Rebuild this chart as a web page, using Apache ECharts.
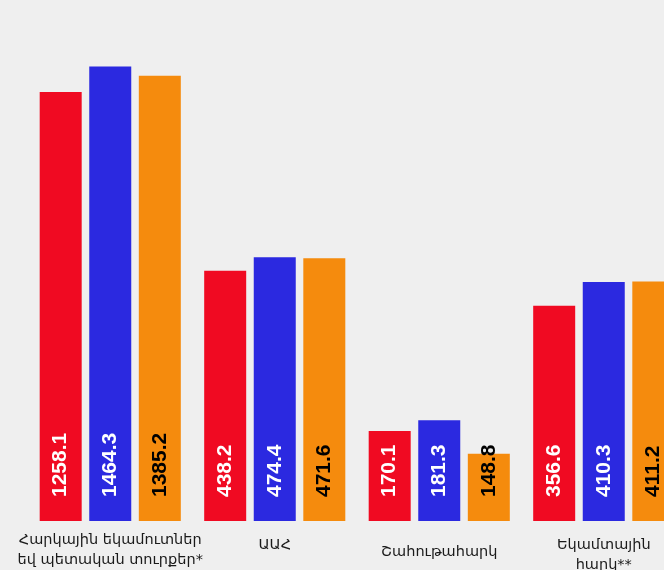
<!DOCTYPE html>
<html>
<head>
<meta charset="utf-8">
<script src="https://cdn.jsdelivr.net/npm/echarts@6/dist/echarts.min.js"></script>
<style>html,body{margin:0;padding:0;background:#efefef}#c{width:664px;height:570px}</style>
</head>
<body>
<div id="c"></div>
<script>
const categories = ['Հարկային եկամուտներ\nեվ պետական տուրքեր*', 'ԱԱՀ', 'Շահութահարկ', 'Եկամտային\nհարկ**'];
const seriesRed = [1258.1, 438.2, 170.1, 356.6];
const seriesBlue = [1464.3, 474.4, 181.3, 410.3];
const seriesOrange = [1385.2, 471.6, 148.8, 411.2];

const chart = echarts.init(document.getElementById('c'));
const labelFont = '"Liberation Sans", Arial, sans-serif';
function mkSeries(data, color, textColor) {
  return {
    type: 'bar',
    data: data,
    barWidth: 42,
    barGap: '18%',
    clip: true,
    itemStyle: { color: color },
    label: {
      show: true,
      position: 'insideBottom',
      rotate: 90,
      align: 'left',
      verticalAlign: 'middle',
      distance: 24,
      color: textColor,
      fontFamily: labelFont,
      fontWeight: 'bold',
      fontSize: 21,
      formatter: p => p.value.toFixed(1)
    }
  };
}
const catData = categories.map((c, i) => {
  const pads = [[0,0,0,0],[5,0,0,0],[12,0,0,0],[5,0,0,0]];
  return { value: c, textStyle: { padding: pads[i] } };
});
chart.setOption({
  backgroundColor: '#efefef',
  animation: false,
  grid: { left: 28, width: 658, top: 0, bottom: 49, containLabel: false, outerBoundsMode: 'none' },
  xAxis: {
    type: 'category',
    data: catData,
    axisLine: { show: false },
    axisTick: { show: false },
    axisLabel: {
      interval: 0,
      margin: 9,
      fontFamily: '"DejaVu Sans", "Noto Sans", sans-serif',
      fontSize: 14.5,
      lineHeight: 20,
      color: '#1a1a1a'
    }
  },
  yAxis: {
    type: 'log',
    logBase: 10,
    min: 100,
    max: 2167,
    show: false,
    splitLine: { show: false }
  },
  series: [
    mkSeries(seriesRed, '#f00a22', '#ffffff'),
    mkSeries(seriesBlue, '#2b29e0', '#ffffff'),
    mkSeries(seriesOrange, '#f58b0d', '#000000')
  ]
});
</script>
</body>
</html>
